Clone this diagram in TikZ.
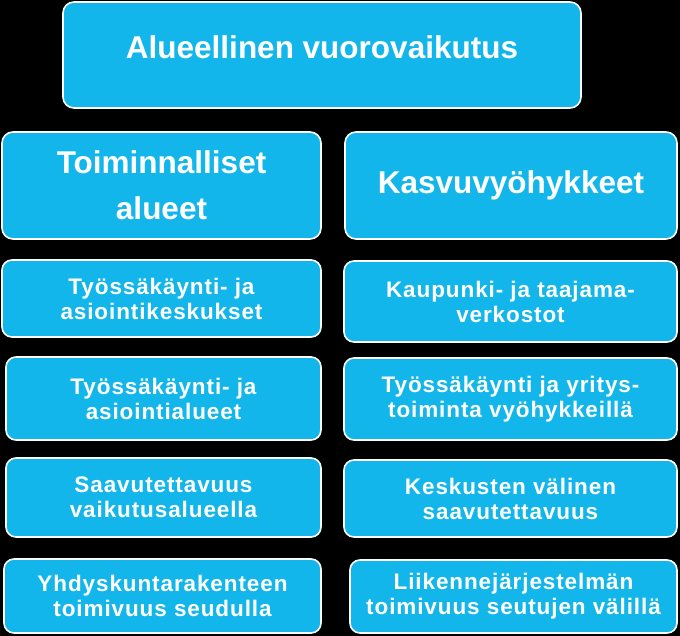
\documentclass[tikz,border=0pt]{standalone}
\usepackage{fontspec}
\setmainfont{Liberation Sans}
\newfontfamily\bigfont{Liberation Sans}
\newfontfamily\smallfont{Liberation Sans}[LetterSpace=4]
\definecolor{kcyan}{RGB}{18,182,235}
\begin{document}
\begin{tikzpicture}[x=1pt,y=-1pt,line join=round,
	box/.style={draw=white,line width=1.6pt,fill=kcyan,text=white,align=center,inner sep=0pt,rounded corners=11pt},
	bigtext/.style={box,font=\bigfont\bfseries\fontsize{31.5pt}{46pt}\selectfont},
	smalltext/.style={box,font=\smallfont\bfseries\fontsize{22.5pt}{25pt}\selectfont,rounded corners=10pt}]
	\fill[black] (0,0) rectangle (680,636);
	\useasboundingbox (0,0) rectangle (680,636);
	% ylin taso
	\node[bigtext,minimum width=518pt,minimum height=106pt,text depth=16pt] (alue) at (322,55) {Alueellinen vuorovaikutus};
	\node[bigtext,minimum width=319pt,minimum height=107pt] (toim) at (161.5,185.5) {Toiminnalliset\\alueet};
	\node[bigtext,minimum width=332pt,minimum height=107pt] (kasvu) at (511,185.5) {Kasvuvy\"ohykkeet};
	% vasen sarake
	\node[smalltext,minimum width=319pt,minimum height=77pt] (tk) at (161.5,298.5) {Ty\"oss\"ak\"aynti- ja\\asiointikeskukset};
	\node[smalltext,minimum width=315pt,minimum height=83pt] (ta) at (163.5,398.5) {Ty\"oss\"ak\"aynti- ja\\asiointialueet};
	\node[smalltext,minimum width=315pt,minimum height=79pt] (sv) at (163.5,497.5) {Saavutettavuus\\vaikutusalueella};
	\node[smalltext,minimum width=317pt,minimum height=74pt] (yr) at (162.5,596) {Yhdyskuntarakenteen\\toimivuus seudulla};
	% oikea sarake
	\node[smalltext,minimum width=333pt,minimum height=81pt] (kt) at (510.5,301.5) {Kaupunki- ja taajama-\\verkostot};
	\node[smalltext,minimum width=333pt,minimum height=82pt] (ty) at (510.5,399) {Ty\"oss\"ak\"aynti ja yritys-\\toiminta vy\"ohykkeill\"a};
	\node[smalltext,minimum width=333pt,minimum height=77pt] (ks) at (510.5,498.5) {Keskusten v\"alinen\\saavutettavuus};
	\node[smalltext,minimum width=327pt,minimum height=73pt] (lj) at (513.5,596.5) {Liikennej\"arjestelm\"an\\toimivuus seutujen v\"alill\"a};
\end{tikzpicture}
\end{document}
